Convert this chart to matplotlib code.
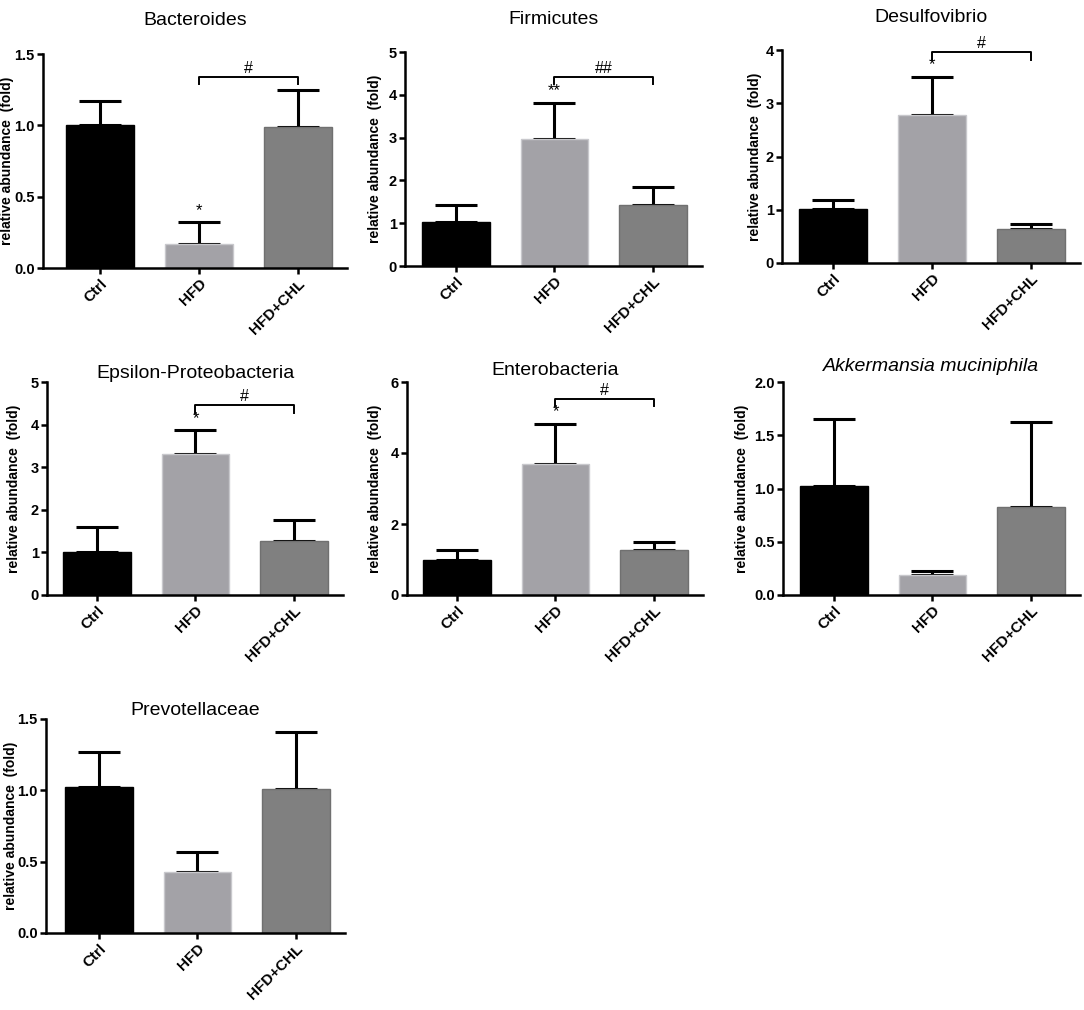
import numpy as np
import matplotlib
matplotlib.use('Agg')
import matplotlib.pyplot as plt

plt.rcParams['font.family'] = ['Liberation Sans', 'DejaVu Sans']

groups = ['Ctrl', 'HFD', 'HFD+CHL']
colors = ['#000000', '#a3a2a7', '#808080']

titles = ['Bacteroides', 'Firmicutes', 'Desulfovibrio', 'Epsilon-Proteobacteria',
          'Enterobacteria', 'Akkermansia muciniphila', 'Prevotellaceae']

# mean values and top of error bar (mean + SEM)
means = [[1.00, 0.17, 0.99],
         [1.03, 2.97, 1.42],
         [1.02, 2.77, 0.64],
         [1.02, 3.32, 1.27],
         [1.00, 3.68, 1.27],
         [1.02, 0.19, 0.83],
         [1.02, 0.43, 1.01]]
err_top = [[1.17, 0.32, 1.25],
           [1.43, 3.82, 1.85],
           [1.19, 3.50, 0.73],
           [1.59, 3.87, 1.76],
           [1.27, 4.83, 1.48],
           [1.65, 0.23, 1.62],
           [1.27, 0.57, 1.41]]

y_max = [1.5, 5, 4, 5, 6, 2.0, 1.5]
y_step = [0.5, 1, 1, 1, 2, 0.5, 0.5]
y_fmt = ['%.1f', '%d', '%d', '%d', '%d', '%.1f', '%.1f']

# significance: star text over HFD, bracket HFD->HFD+CHL (height, drop, label)
stars = ['*', '**', '*', '*', '*', '', '']
brackets = [(1.34, 0.05, '#'), (4.42, 0.17, '##'), (3.97, 0.15, '#'),
            (4.45, 0.18, '#'), (5.53, 0.21, '#'), None, None]

# axes rects in pixels: left, right, top, bottom ; x-limit left
W, H = 1084, 1010
rects = [(43, 347, 54, 268), (405, 702, 52, 266), (782, 1080, 50, 263),
         (47, 343, 382, 595), (407, 703, 382, 595), (783, 1080, 382, 595),
         (46, 345, 719, 933)]
xlefts = [-0.58, -0.52, -0.52, -0.51, -0.51, -0.52, -0.54]
title_pads = [21, 20, 20, 3, 5, 8, 2]
label_gap = [29, 23, 20, 26, 25, 34, 28]   # px from y axis to right edge of ylabel

fig = plt.figure(figsize=(W / 100, H / 100), dpi=100)

for i in range(7):
    l, r, t, b = rects[i]
    ax = fig.add_axes([l / W, 1 - b / H, (r - l) / W, (b - t) / H])
    x = np.arange(3)
    m = np.array(means[i])
    e = np.array(err_top[i]) - m
    ax.errorbar(x, m, yerr=[np.zeros(3), e], fmt='none', ecolor='black',
                elinewidth=2.2, capsize=15, capthick=2.2, zorder=1)
    ax.bar(x, m, width=0.69, color=colors, edgecolor=['#000000', '#c8c8cc', '#707070'],
           linewidth=1, zorder=2)

    ax.set_xlim(xlefts[i], 2.5)
    ax.set_ylim(0, y_max[i])
    ticks = np.arange(0, y_max[i] + 1e-9, y_step[i])
    ax.set_yticks(ticks)
    ax.set_yticklabels([y_fmt[i] % v for v in ticks], fontsize=10.5, fontweight='bold')
    ax.set_xticks(x)
    ax.set_xticklabels(groups, rotation=45, ha='right', rotation_mode='anchor',
                       fontsize=11, fontweight='bold')
    for s in ['top', 'right']:
        ax.spines[s].set_visible(False)
    for s in ['left', 'bottom']:
        ax.spines[s].set_linewidth(1.8)
    ax.tick_params(width=1.8, length=4, direction='out', pad=2)
    ax.set_ylabel('relative abundance  (fold)', fontsize=10, fontweight='bold')
    ax.yaxis.set_label_coords(-label_gap[i] / (r - l), 0.5)
    ax.set_title(titles[i], fontsize=14, pad=title_pads[i],
                 style='italic' if 'Akkermansia' in titles[i] else 'normal')

    if stars[i]:
        ax.text(1, err_top[i][1] + y_max[i] * 0.02, stars[i], ha='center', va='bottom',
                fontsize=12)
    if brackets[i] is not None:
        h, d, lab = brackets[i]
        ax.plot([1, 1, 2, 2], [h - d, h, h, h - d], color='black', lw=1.4,
                clip_on=False)
        ax.text(1.5, h + y_max[i] * 0.005, lab, ha='center', va='bottom', fontsize=11.5)

fig.savefig('out.png', dpi=100)
